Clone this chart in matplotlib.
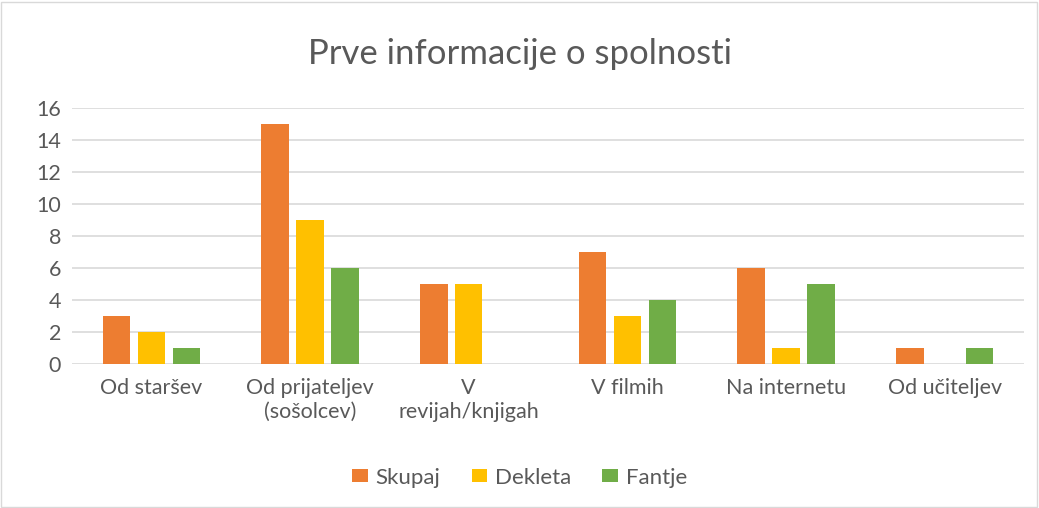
import matplotlib.pyplot as plt
from matplotlib.patches import Rectangle
import numpy as np

# podatki
categories = ['Od staršev', 'Od prijateljev\n(sošolcev)', 'V\nrevijah/knjigah',
              'V filmih', 'Na internetu', 'Od učiteljev']
skupaj = [3, 15, 5, 7, 6, 1]
dekleta = [2, 9, 5, 3, 1, 0]
fantje = [1, 6, 0, 4, 5, 1]
series_names = ['Skupaj', 'Dekleta', 'Fantje']
colors = ['#ED7D31', '#FFC000', '#70AD47']
yticks = [0, 2, 4, 6, 8, 10, 12, 14, 16]

plt.rcParams['font.family'] = ['Lato', 'DejaVu Sans']
text_color = '#595959'

fig = plt.figure(figsize=(10.39, 5.08), dpi=100)
ax = fig.add_axes([0.0693, 0.2835, 0.9163, 0.5039])

x = np.arange(len(categories))
w = 0.173
step = 0.22
for i, (vals, name, c) in enumerate(zip([skupaj, dekleta, fantje], series_names, colors)):
    ax.bar(x + (i - 1) * step, vals, width=w, color=c, label=name, zorder=3)

ax.set_xlim(-0.5, len(categories) - 0.5)
ax.set_ylim(0, 16)
ax.set_yticks(yticks)
ax.set_xticks(x)
ax.set_xticklabels(categories, fontsize=15.5, color=text_color, linespacing=1.25)
ax.tick_params(axis='y', labelsize=15.5, labelcolor=text_color, length=0, pad=8)
ax.tick_params(axis='x', length=0, pad=10)
ax.grid(axis='y', color='#d9d9d9', linewidth=1.2, zorder=0)
for s in ax.spines.values():
    s.set_visible(False)

fig.text(0.5, 0.893, 'Prve informacije o spolnosti', ha='center', va='center',
         fontsize=25, color=text_color)

leg = ax.legend(loc='center', bbox_to_anchor=(0.5, 0.06), bbox_transform=fig.transFigure,
                ncol=3, frameon=False, fontsize=16, handlelength=0.7, handleheight=0.5,
                handletextpad=0.35, columnspacing=1.4, labelcolor=text_color)

# okvir slike
fig.patches.append(Rectangle((0.001, 0.002), 0.997, 0.995, transform=fig.transFigure,
                             fill=False, edgecolor='#d9d9d9', linewidth=1))

plt.savefig('out.png', dpi=100, facecolor='white')
